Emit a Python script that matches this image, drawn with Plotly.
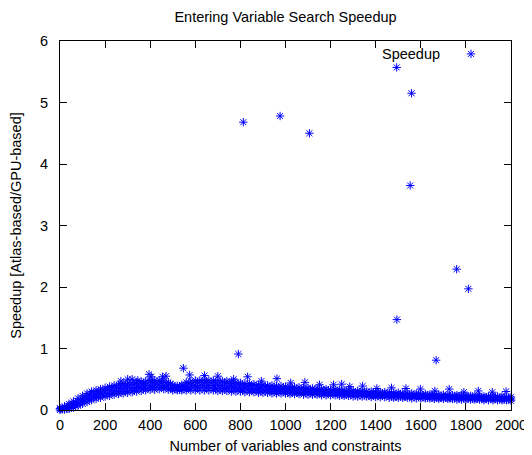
import plotly.graph_objects as go

# ---- data ----
band_x = [0, 20, 40, 60, 80, 100, 120, 140, 160, 180,
          200, 220, 240, 260, 280, 300, 320, 340, 360, 380,
          400, 420, 440, 460, 480, 500, 520, 540, 560, 580,
          600, 620, 640, 660, 680, 700, 720, 740, 760, 780,
          800, 820, 840, 860, 880, 900, 920, 940, 960, 980,
          1000, 1020, 1040, 1060, 1080, 1100, 1120, 1140, 1160, 1180,
          1200, 1220, 1240, 1260, 1280, 1300, 1320, 1340, 1360, 1380,
          1400, 1420, 1440, 1460, 1480, 1500, 1520, 1540, 1560, 1580,
          1600, 1620, 1640, 1660, 1680, 1700, 1720, 1740, 1760, 1780,
          1800, 1820, 1840, 1860, 1880, 1900, 1920, 1940, 1960, 1980,
          2000]

band_low = [0.00, 0.01, 0.02, 0.04, 0.07, 0.10, 0.13, 0.16, 0.18, 0.20,
            0.22, 0.23, 0.25, 0.26, 0.27, 0.28, 0.29, 0.30, 0.31, 0.32,
            0.33, 0.33, 0.34, 0.34, 0.33, 0.32, 0.32, 0.32, 0.32, 0.32,
            0.32, 0.32, 0.32, 0.32, 0.32, 0.31, 0.31, 0.31, 0.30, 0.30,
            0.30, 0.29, 0.29, 0.29, 0.28, 0.28, 0.28, 0.27, 0.27, 0.27,
            0.27, 0.26, 0.26, 0.26, 0.25, 0.25, 0.25, 0.25, 0.24, 0.24,
            0.24, 0.24, 0.23, 0.23, 0.23, 0.22, 0.22, 0.22, 0.22, 0.21,
            0.21, 0.21, 0.21, 0.20, 0.20, 0.20, 0.20, 0.20, 0.19, 0.19,
            0.19, 0.19, 0.19, 0.18, 0.18, 0.18, 0.18, 0.18, 0.17, 0.17,
            0.17, 0.17, 0.17, 0.17, 0.16, 0.16, 0.16, 0.16, 0.16, 0.16,
            0.15]

band_mid = [0.02, 0.03, 0.06, 0.09, 0.13, 0.17, 0.20, 0.23, 0.25, 0.27,
            0.29, 0.31, 0.32, 0.34, 0.35, 0.36, 0.37, 0.37, 0.38, 0.40,
            0.40, 0.41, 0.41, 0.40, 0.39, 0.36, 0.35, 0.36, 0.38, 0.39,
            0.40, 0.40, 0.41, 0.40, 0.40, 0.39, 0.39, 0.39, 0.38, 0.37,
            0.37, 0.36, 0.36, 0.35, 0.35, 0.34, 0.34, 0.33, 0.33, 0.33,
            0.32, 0.32, 0.31, 0.31, 0.31, 0.30, 0.30, 0.30, 0.29, 0.29,
            0.28, 0.28, 0.28, 0.27, 0.27, 0.27, 0.26, 0.26, 0.26, 0.25,
            0.25, 0.25, 0.25, 0.24, 0.24, 0.24, 0.23, 0.23, 0.23, 0.23,
            0.22, 0.22, 0.22, 0.22, 0.21, 0.21, 0.21, 0.21, 0.21, 0.20,
            0.20, 0.20, 0.20, 0.20, 0.19, 0.19, 0.19, 0.19, 0.19, 0.18,
            0.18]

band_high = [0.03, 0.06, 0.10, 0.14, 0.19, 0.23, 0.27, 0.30, 0.32, 0.34,
             0.36, 0.38, 0.40, 0.41, 0.43, 0.44, 0.44, 0.45, 0.46, 0.47,
             0.48, 0.48, 0.48, 0.47, 0.45, 0.41, 0.39, 0.41, 0.45, 0.47,
             0.48, 0.48, 0.49, 0.48, 0.48, 0.48, 0.47, 0.47, 0.46, 0.45,
             0.44, 0.43, 0.43, 0.42, 0.41, 0.41, 0.40, 0.40, 0.39, 0.39,
             0.38, 0.38, 0.37, 0.37, 0.36, 0.36, 0.35, 0.35, 0.34, 0.34,
             0.33, 0.33, 0.33, 0.32, 0.32, 0.31, 0.31, 0.31, 0.30, 0.30,
             0.29, 0.29, 0.29, 0.28, 0.28, 0.28, 0.27, 0.27, 0.27, 0.26,
             0.26, 0.26, 0.25, 0.25, 0.25, 0.25, 0.24, 0.24, 0.24, 0.24,
             0.23, 0.23, 0.23, 0.23, 0.22, 0.22, 0.22, 0.22, 0.22, 0.21,
             0.21]

band_x2 = [10, 30, 50, 70, 90, 110, 130, 150, 170, 190,
           210, 230, 250, 270, 290, 310, 330, 350, 370, 390,
           410, 430, 450, 470, 490, 510, 530, 550, 570, 590,
           610, 630, 650, 670, 690, 710, 730, 750, 770, 790,
           810, 830, 850, 870, 890, 910, 930, 950, 970, 990,
           1010, 1030, 1050, 1070, 1090, 1110, 1130, 1150, 1170, 1190,
           1210, 1230, 1250, 1270, 1290, 1310, 1330, 1350, 1370, 1390,
           1410, 1430, 1450, 1470, 1490, 1510, 1530, 1550, 1570, 1590,
           1610, 1630, 1650, 1670, 1690, 1710, 1730, 1750, 1770, 1790,
           1810, 1830, 1850, 1870, 1890, 1910, 1930, 1950, 1970, 1990]

band_q1 = [0.01, 0.02, 0.04, 0.07, 0.10, 0.14, 0.17, 0.20, 0.22, 0.24,
           0.26, 0.27, 0.29, 0.30, 0.31, 0.32, 0.33, 0.34, 0.35, 0.36,
           0.37, 0.37, 0.37, 0.37, 0.35, 0.34, 0.33, 0.34, 0.35, 0.36,
           0.36, 0.36, 0.36, 0.36, 0.35, 0.35, 0.35, 0.34, 0.34, 0.33,
           0.33, 0.33, 0.32, 0.32, 0.31, 0.31, 0.31, 0.30, 0.30, 0.30,
           0.29, 0.29, 0.28, 0.28, 0.28, 0.28, 0.27, 0.27, 0.27, 0.26,
           0.26, 0.26, 0.25, 0.25, 0.25, 0.24, 0.24, 0.24, 0.24, 0.23,
           0.23, 0.23, 0.23, 0.22, 0.22, 0.22, 0.22, 0.21, 0.21, 0.21,
           0.21, 0.20, 0.20, 0.20, 0.20, 0.20, 0.19, 0.19, 0.19, 0.19,
           0.19, 0.18, 0.18, 0.18, 0.18, 0.18, 0.18, 0.17, 0.17, 0.17]

band_q3 = [0.03, 0.05, 0.09, 0.12, 0.17, 0.21, 0.25, 0.28, 0.30, 0.32,
           0.34, 0.36, 0.37, 0.39, 0.40, 0.41, 0.41, 0.42, 0.43, 0.44,
           0.45, 0.45, 0.45, 0.44, 0.42, 0.38, 0.38, 0.40, 0.43, 0.44,
           0.45, 0.45, 0.45, 0.45, 0.44, 0.44, 0.44, 0.43, 0.42, 0.42,
           0.41, 0.40, 0.40, 0.39, 0.38, 0.38, 0.37, 0.37, 0.36, 0.36,
           0.35, 0.35, 0.34, 0.34, 0.34, 0.33, 0.33, 0.32, 0.32, 0.32,
           0.31, 0.31, 0.31, 0.30, 0.30, 0.29, 0.29, 0.29, 0.28, 0.28,
           0.27, 0.27, 0.27, 0.26, 0.26, 0.26, 0.25, 0.25, 0.25, 0.25,
           0.24, 0.24, 0.24, 0.24, 0.23, 0.23, 0.23, 0.23, 0.22, 0.22,
           0.22, 0.22, 0.21, 0.21, 0.21, 0.21, 0.21, 0.20, 0.20, 0.20]

spike_x = [270, 300, 320, 345, 395, 405, 455, 470, 547, 575, 641, 700, 770,
           832, 893, 962, 1023, 1086, 1151, 1213, 1249, 1285, 1342, 1405,
           1470, 1534, 1598, 1662, 1726, 1791, 1855, 1917, 1978]
spike_y = [0.47, 0.50, 0.50, 0.48, 0.58, 0.54, 0.54, 0.55, 0.68, 0.57, 0.56,
           0.55, 0.50, 0.54, 0.47, 0.51, 0.44, 0.45, 0.41, 0.41, 0.42, 0.38,
           0.39, 0.35, 0.36, 0.35, 0.34, 0.31, 0.34, 0.29, 0.31, 0.29, 0.30]

outlier_x = [791, 813, 976, 1106, 1553, 1493, 1494, 1559, 1668, 1759, 1811]
outlier_y = [0.91, 4.68, 4.78, 4.50, 3.65, 5.57, 1.47, 5.15, 0.81, 2.29, 1.97]

x_ticks = [0, 200, 400, 600, 800, 1000, 1200, 1400, 1600, 1800, 2000]
y_ticks = [0, 1, 2, 3, 4, 5, 6]

BLUE = "rgb(0,0,255)"
FONT = "Liberation Sans, Arial, sans-serif"
MARK = dict(symbol="asterisk-open", size=7, color=BLUE,
            line=dict(width=1, color=BLUE))

fig = go.Figure()

for xs, ys in ((band_x, band_low), (band_x2, band_q1), (band_x, band_mid),
               (band_x2, band_q3), (band_x, band_high)):
    fig.add_trace(go.Scatter(
        x=xs, y=ys, mode="markers", showlegend=False, cliponaxis=False,
        marker=MARK, hoverinfo="skip"))

fig.add_trace(go.Scatter(
    x=spike_x, y=spike_y, mode="markers", showlegend=False, cliponaxis=False,
    marker=MARK))

fig.add_trace(go.Scatter(
    x=outlier_x, y=outlier_y, mode="markers", name="", showlegend=True,
    cliponaxis=False, marker=MARK))

axis_common = dict(showline=True, linecolor="black", linewidth=1,
                   mirror="ticks", ticks="inside", ticklen=7, tickwidth=1,
                   tickcolor="black", showgrid=False, zeroline=False,
                   automargin=False,
                   tickfont=dict(family=FONT, size=14.5, color="black"))

# The page body keeps its default 8px margin, so the figure is sized to fit
# the 532x455 window from that offset.
fig.update_layout(
    width=524, height=447,
    margin=dict(l=52, r=21, t=33, b=45),
    paper_bgcolor="white", plot_bgcolor="white",
    title=dict(text="Entering Variable Search Speedup", x=0.5, xref="paper",
               xanchor="center", y=1 - 9 / 447, yref="container",
               yanchor="middle",
               font=dict(family=FONT, size=14.5, color="black")),
    xaxis=dict(range=[0, 2000], tickvals=x_ticks, ticklabelstandoff=2,
               title=dict(text="Number of variables and constraints",
                          font=dict(family=FONT, size=14.5, color="black"),
                          standoff=8),
               **axis_common),
    yaxis=dict(range=[0, 6], tickvals=y_ticks, ticklabelstandoff=8,
               title=dict(text="Speedup [Atlas-based/GPU-based]",
                          font=dict(family=FONT, size=14.5, color="black"),
                          standoff=14),
               **axis_common),
    legend=dict(x=0.867, xanchor="left", y=0.9648, yanchor="middle",
                bgcolor="rgba(0,0,0,0)", borderwidth=0,
                font=dict(family=FONT, size=14.5, color="black")),
    annotations=[dict(text="Speedup", x=0.847, y=0.9648, xref="paper",
                      yref="paper", xanchor="right", yanchor="middle",
                      showarrow=False,
                      font=dict(family=FONT, size=14.5, color="black"))],
)

fig.write_html("out.html")
